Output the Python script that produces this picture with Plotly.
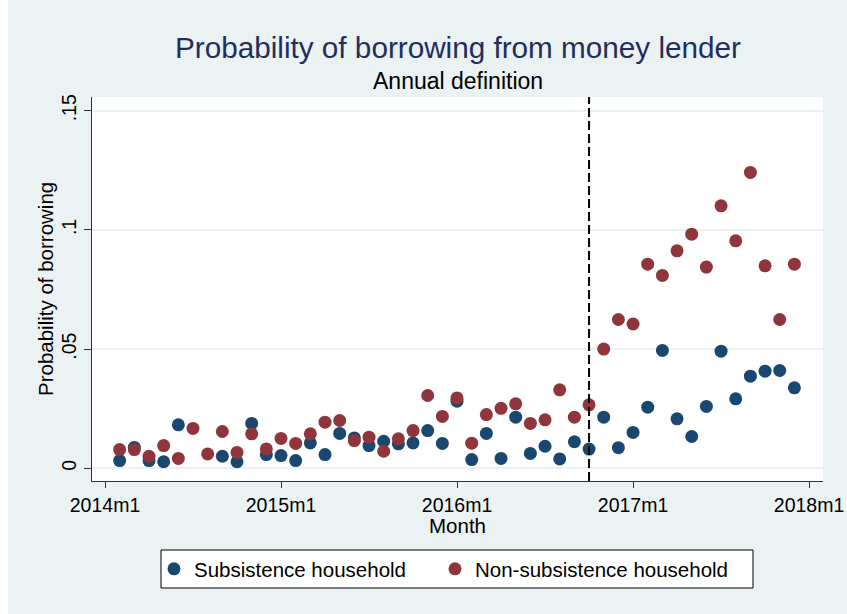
import plotly.graph_objects as go

# Monthly observations (Stata %tm style labels)
months = [
    "2014m2", "2014m3", "2014m4", "2014m5", "2014m6", "2014m7", "2014m8",
    "2014m9", "2014m10", "2014m11", "2014m12",
    "2015m1", "2015m2", "2015m3", "2015m4", "2015m5", "2015m6", "2015m7",
    "2015m8", "2015m9", "2015m10", "2015m11", "2015m12",
    "2016m1", "2016m2", "2016m3", "2016m4", "2016m5", "2016m6", "2016m7",
    "2016m8", "2016m9", "2016m10", "2016m11", "2016m12",
    "2017m1", "2017m2", "2017m3", "2017m4", "2017m5", "2017m6", "2017m7",
    "2017m8", "2017m9", "2017m10", "2017m11", "2017m12",
]

subsistence = [
    0.0032, 0.0087, 0.0032, 0.0027, 0.0182, None, None,
    0.0050, 0.0027, 0.0188, 0.0057,
    0.0053, 0.0032, 0.0106, 0.0057, 0.0146, 0.0127, 0.0095,
    0.0113, 0.0102, 0.0106, 0.0158, 0.0104,
    0.0281, 0.0036, 0.0146, 0.0041, 0.0214, 0.0062, 0.0092,
    0.0039, 0.0111, 0.0080, 0.0214, 0.0086,
    0.0150, 0.0256, 0.0494, 0.0207, 0.0133, 0.0259, 0.0491,
    0.0291, 0.0386, 0.0407, 0.0410, 0.0337,
]

non_subsistence = [
    0.0078, 0.0078, 0.0050, 0.0095, 0.0041, 0.0167, 0.0060,
    0.0154, 0.0066, 0.0144, 0.0081,
    0.0125, 0.0104, 0.0144, 0.0193, 0.0200, 0.0116, 0.0130,
    0.0071, 0.0123, 0.0158, 0.0305, 0.0217,
    0.0295, 0.0105, 0.0225, 0.0251, 0.0270, 0.0188, 0.0203,
    0.0329, 0.0214, 0.0266, 0.0500, 0.0624,
    0.0605, 0.0856, 0.0809, 0.0912, 0.0982, 0.0844, 0.1101,
    0.0954, 0.1241, 0.0849, 0.0624, 0.0856,
]

x_tick_labels = ["2014m1", "2015m1", "2016m1", "2017m1", "2018m1"]
y_tick_values = [0, 0.05, 0.1, 0.15]
y_tick_labels = ["0", ".05", ".1", ".15"]
cutoff_month = "2016m10"


def tm(label):
    """Months since 1960m1, like Stata's %tm."""
    year, month = label.split("m")
    return (int(year) - 1960) * 12 + int(month) - 1


x = [tm(m) for m in months]

NAVY = "#1a476f"
MAROON = "#90353b"
BG = "#eaf2f3"
FONT = "Liberation Sans"

fig = go.Figure()
fig.add_trace(go.Scatter(
    x=x, y=subsistence, mode="markers", name="Subsistence household",
    marker=dict(color=NAVY, size=13, line=dict(width=0)),
    legendwidth=236,
))
fig.add_trace(go.Scatter(
    x=x, y=non_subsistence, mode="markers", name="Non-subsistence household",
    marker=dict(color=MAROON, size=13, line=dict(width=0)),
    legendwidth=290,
))

x0 = tm("2014m1")
fig.update_xaxes(
    range=[x0 - 0.886, x0 + 48.95], automargin=False,
    tickvals=[tm(t) for t in x_tick_labels], ticktext=x_tick_labels,
    ticks="outside", ticklen=6, tickwidth=1.2, tickcolor="#333333",
    showline=True, linecolor="#333333", linewidth=1.2,
    showgrid=False, zeroline=False,
    tickfont=dict(family=FONT, size=19.5, color="black"),
)
fig.update_yaxes(
    range=[-0.00538, 0.15576], automargin=False,
    tickvals=y_tick_values, ticktext=y_tick_labels, tickangle=-90,
    ticks="outside", ticklen=7, tickwidth=1.2, tickcolor="#333333",
    showline=True, linecolor="#333333", linewidth=1.2,
    showgrid=True, gridcolor=BG, gridwidth=2, zeroline=False,
    tickfont=dict(family=FONT, size=19.5, color="black"),
)

shapes = [
    # white strip at the left edge of the canvas
    dict(type="rect", xref="paper", yref="paper", x0=-0.2, x1=(8 - 92) / 731,
         y0=-0.5, y1=1.5, fillcolor="white", line=dict(width=0), layer="below"),
    # treatment month marker
    dict(type="line", xref="x", yref="paper", x0=tm(cutoff_month), x1=tm(cutoff_month),
         y0=0, y1=1, line=dict(color="black", width=2, dash="9px,4px")),
    # legend frame
    dict(type="rect", xref="paper", yref="paper",
         x0=(161 - 92) / 731, x1=(753 - 92) / 731,
         y0=(481 - 588) / 384, y1=(481 - 550) / 384,
         fillcolor="white", line=dict(color="black", width=1)),
]

annotations = [
    dict(text="Probability of borrowing from money lender", xref="paper", yref="paper",
         x=0.5, y=(481 - 47) / 384, xanchor="center", yanchor="middle", showarrow=False,
         font=dict(family=FONT, size=29.7, color="#1f2f5c")),
    dict(text="Annual definition", xref="paper", yref="paper",
         x=0.5, y=(481 - 81) / 384, xanchor="center", yanchor="middle", showarrow=False,
         font=dict(family=FONT, size=23, color="black")),
    dict(text="Month", xref="paper", yref="paper",
         x=0.5, y=(481 - 525) / 384, xanchor="center", yanchor="middle", showarrow=False,
         font=dict(family=FONT, size=20.5, color="black")),
    dict(text="Probability of borrowing", xref="paper", yref="paper", textangle=-90,
         x=(45 - 92) / 731, y=0.5, xanchor="center", yanchor="middle", showarrow=False,
         font=dict(family=FONT, size=20.5, color="black")),
]

fig.update_layout(
    width=847, height=614,
    margin=dict(l=92, r=24, t=97, b=133),
    paper_bgcolor=BG, plot_bgcolor="white",
    shapes=shapes, annotations=annotations,
    showlegend=True,
    legend=dict(
        orientation="h", x=(154 - 92) / 731, xanchor="left",
        y=(481 - 569) / 384, yanchor="middle",
        bgcolor="rgba(0,0,0,0)", borderwidth=0,
        font=dict(family=FONT, size=20.5, color="black"),
    ),
)

fig.write_html("out.html")
